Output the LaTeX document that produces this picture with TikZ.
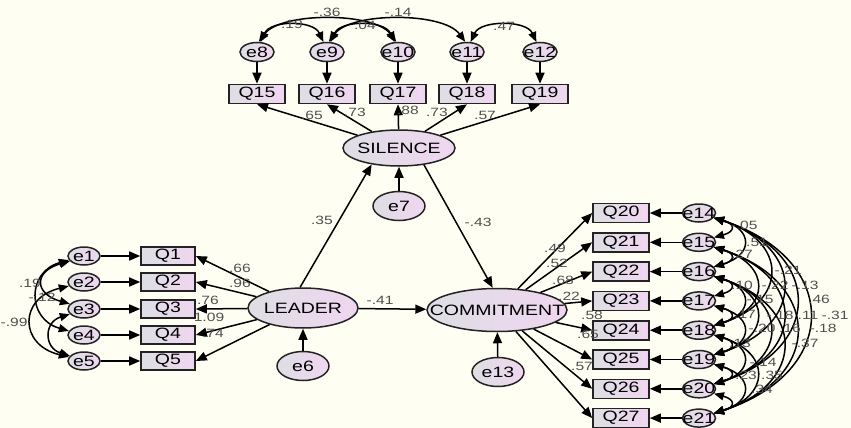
\documentclass[tikz,border=0pt]{standalone}
\usepackage{fontspec}
\newfontfamily\wf{Liberation Sans}[FakeStretch=1.3]
\usetikzlibrary{arrows.meta,shapes.geometric}
\definecolor{bg}{RGB}{254,254,242}
\definecolor{fillL}{RGB}{222,222,228}
\definecolor{fillR}{RGB}{240,214,240}
\definecolor{numc}{RGB}{80,80,80}
\definecolor{edgec}{RGB}{35,35,35}
\newcommand\nbx[1]{\makebox[0pt]{#1}}
\tikzset{
  obs/.style={draw=edgec, line width=1.6pt, rectangle, minimum width=56pt, minimum height=19pt, inner sep=0pt, left color=fillL, right color=fillR, font=\wf\fontsize{15}{15}\selectfont},
  err/.style={draw=edgec, line width=1.5pt, ellipse, minimum width=34pt, minimum height=19pt, inner sep=0pt, left color=fillL, right color=fillR, font=\wf\fontsize{15}{15}\selectfont},
  bigerr/.style={err, minimum width=52pt, minimum height=29pt},
  lat/.style={draw=edgec, line width=1.5pt, ellipse, inner sep=0pt, left color=fillL, right color=fillR, font=\wf\fontsize{15}{15}\selectfont},
  pth/.style={line width=1.5pt, -{Triangle[length=11pt,width=9pt]}},
  cov/.style={line width=1.5pt, {Triangle[length=10pt,width=8pt]}-{Triangle[length=10pt,width=8pt]}},
  num/.style={text=numc, font=\wf\fontsize{12}{12}\selectfont, inner sep=0.5pt},
}
\begin{document}
\begin{tikzpicture}[x=1pt,y=-1pt]
\fill[bg] (0,0) rectangle (851,428);
\useasboundingbox (0,0) rectangle (851,428);

% ---- SILENCE block
\node[err] (e8) at (257,52) {\nbx{e8}};
\node[err] (e9) at (327,52) {\nbx{e9}};
\node[err] (e10) at (398,52) {\nbx{e10}};
\node[err] (e11) at (467,52) {\nbx{e11}};
\node[err] (e12) at (540,52) {\nbx{e12}};
\node[obs] (Q15) at (257,94) {Q15};
\node[obs] (Q16) at (327,94) {Q16};
\node[obs] (Q17) at (398,94) {Q17};
\node[obs] (Q18) at (467,94) {Q18};
\node[obs] (Q19) at (540,94) {Q19};
\node[lat, minimum width=112pt, minimum height=36pt] (SIL) at (399,148) {\nbx{SILENCE}};
\node[bigerr] (e7) at (399,206) {\nbx{e7}};

% ---- LEADER block
\node[lat, minimum width=110pt, minimum height=40pt] (LEAD) at (303,308) {\nbx{LEADER}};
\node[bigerr] (e6) at (303,366) {\nbx{e6}};
\foreach \n/\y in {1/256,2/282,3/309,4/335,5/361}{
  \node[err, minimum width=32pt, minimum height=18pt] (e\n) at (84,\y) {\nbx{e\n}};
  \node[obs, minimum width=54pt, minimum height=18pt] (Q\n) at (168,\y) {Q\n};
  \draw[pth] (e\n) -- (Q\n);
  \draw[pth] (LEAD) -- (Q\n.east);
}

% ---- COMMITMENT block
\node[lat, minimum width=140pt, minimum height=43pt] (COM) at (497,310) {\nbx{COMMITMENT}};
\node[bigerr] (e13) at (498,372) {\nbx{e13}};
\foreach \n/\q in {14/20,15/21,16/22,17/23,18/24,19/25,20/26,21/27}{
  \pgfmathsetmacro\yy{213+(\n-14)*29.3}
  \node[obs, minimum height=19pt] (Q\q) at (621,\yy) {Q\q};
  \node[err, minimum width=33pt, minimum height=18pt] (e\n) at (699,\yy) {\nbx{e\n}};
  \draw[pth] (e\n) -- (Q\q);
  \draw[pth] (COM) -- (Q\q.west);
}

% ---- top error -> indicators, loadings
\foreach \e/\q in {8/15,9/16,10/17,11/18,12/19}{
  \draw[pth] (e\e) -- (Q\q);
  \draw[pth] (SIL) -- (Q\q.south);
}

% ---- structural paths
\draw[pth] (e7) -- (SIL);
\draw[pth] (e6) -- (LEAD);
\draw[pth] (e13) -- (COM);
\draw[pth] (LEAD.98) -- (SIL.211);
\draw[pth] (SIL.-34) -- (COM.101);
\draw[pth] (LEAD) -- (COM);

% ---- top covariances
\draw[cov] (e8.70) .. controls +(10,-22) and +(-10,-22) .. (e9.110);
\draw[cov] (e8.80) .. controls +(22,-30) and +(-22,-30) .. (e10.100);
\draw[cov] (e9.70) .. controls +(10,-22) and +(-10,-22) .. (e10.110);
\draw[cov] (e9.80) .. controls +(22,-30) and +(-22,-30) .. (e11.100);
\draw[cov] (e11.70) .. controls +(10,-22) and +(-10,-22) .. (e12.110);

% ---- left covariances
\draw[cov] (e1.200) .. controls +(-36,10) and +(-36,-10) .. (e3.160);
\draw[cov] (e1.195) .. controls +(-42,12) and +(-42,-12) .. (e4.165);
\draw[cov] (e2.195) .. controls +(-50,12) and +(-50,-12) .. (e5.165);
\draw[cov] (e3.200) .. controls +(-26,8) and +(-26,-8) .. (e5.160);

% ---- right covariances
\foreach \i/\j in {14/15,15/16,16/17,17/18,18/19,19/20,20/21,14/16,16/18,17/19,18/20,19/21,15/18,16/19,18/21,14/18,16/20,14/19,15/20,16/21,14/20,15/21,14/21}{
  \pgfmathsetmacro\s{(\j-\i)*29.3}
  \pgfmathsetmacro\k{0.6*\s+4}
  \pgfmathsetmacro\d{0.2*\s}
  \draw[cov] (e\i.-18) .. controls +(\k,\d) and +(\k,-\d) .. (e\j.18);
}

% ---- labels
\node[num] (l1) at (322,220) {.35};
\node[num] (l2) at (478,222) {-.43};
\node[num] (l3) at (380,300) {-.41};
\node[num] (t1) at (312,115) {.65};
\node[num] (t2) at (355,112) {.73};
\node[num] (t3) at (408,110) {.88};
\node[num] (t4) at (437,112) {.73};
\node[num] (t5) at (485,115) {.57};
\node[num] (c1) at (292,24) {.19};
\node[num] (c2) at (327,12) {-.36};
\node[num] (c3) at (365,25) {.04};
\node[num] (c4) at (398,12) {-.14};
\node[num] (c5) at (504,26) {.47};
\node[num] (f1) at (240,268) {.66};
\node[num] (f2) at (240,283) {.96};
\node[num] (f3) at (208,300) {.76};
\node[num] (f4) at (209,317) {1.09};
\node[num] (f5) at (213,333) {.74};
\node[num] (d1) at (30,283) {.19};
\node[num] (d2) at (42,297) {-.12};
\node[num] (d3) at (14,322) {-.99};
\node[num] (g1) at (555,248) {.49};
\node[num] (g2) at (557,263) {.52};
\node[num] (g3) at (563,280) {.68};
\node[num] (g4) at (569,296) {.22};
\node[num] (g5) at (592,315) {.58};
\node[num] (g6) at (588,334) {.65};
\node[num] (g7) at (582,366) {.57};
\foreach \t/\x/\y in {{-.05}/744/225,{.27}/742/254,{.10}/742/285,{.17}/745/314,{.13}/740/343,{.23}/746/375,{.51}/757/242,{-.15}/760/299,{-.20}/762/328,{-.14}/763/362,{.34}/762/389,{-.22}/775/285,{-.18}/780/315,{.35}/772/375,{-.21}/788/270,{.16}/790/328,{-.13}/805/285,{.11}/808/315,{-.37}/805/343,{.46}/819/299,{-.18}/823/328,{-.31}/835/315}{
  \node[num] at (\x,\y) {\t};
}
\end{tikzpicture}
\end{document}
